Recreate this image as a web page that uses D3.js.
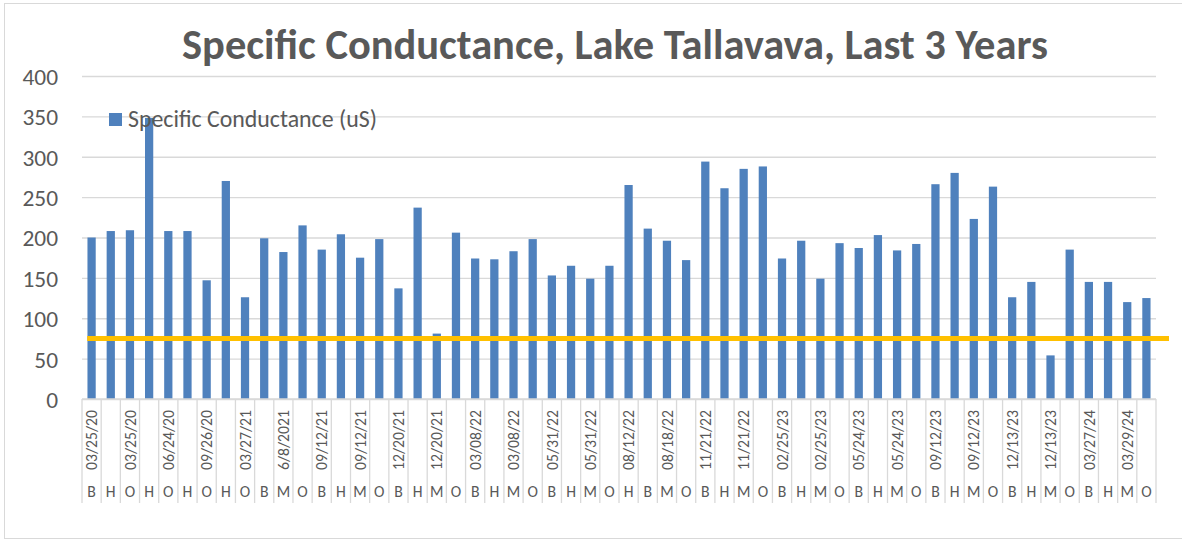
<!DOCTYPE html>
<html>
<head>
<meta charset="utf-8">
<script src="https://cdn.jsdelivr.net/npm/d3@7"></script>
<style>
  body { margin: 0; background: #fff; }
  text { font-family: Carlito, Calibri, Lato, sans-serif; fill: #595959; }
</style>
</head>
<body>
<div id="chart"></div>
<script>
const sites = ['B','H','O','H','O','H','O','H','O','B','M','O','B','H','M','O','B','H','M','O',
  'B','H','M','O','B','H','M','O','H','B','M','O','B','H','M','O','B','H','M','O',
  'B','H','M','O','B','H','M','O','B','H','M','O','B','H','M','O'];

// one date label for every pair of bars
const dateLabels = ['03/25/20','03/25/20','06/24/20','09/26/20','03/27/21','6/8/2021','09/12/21','09/12/21',
  '12/20/21','12/20/21','03/08/22','03/08/22','05/31/22','05/31/22','08/12/22','08/18/22',
  '11/21/22','11/21/22','02/25/23','02/25/23','05/24/23','05/24/23','09/12/23','09/12/23',
  '12/13/23','12/13/23','03/27/24','03/29/24'];

const conductance = [200,208,209,348,208,208,147,270,126,199,182,215,185,204,175,198,137,237,81,206,
  174,173,183,198,153,165,149,165,265,211,196,172,294,261,285,288,174,196,149,193,
  187,203,184,192,266,280,223,263,126,145,54,185,145,145,120,125];

const threshold = 75;
const yTicks = [0,50,100,150,200,250,300,350,400];

const W = 1182, H = 541;
const margin = { top: 76, right: 26, bottom: 142, left: 82 };
const width = W - margin.left - margin.right;
const height = H - margin.top - margin.bottom;

const svg = d3.select('#chart').append('svg')
  .attr('width', W)
  .attr('height', H);

// chart border
svg.append('rect')
  .attr('x', 4.5).attr('y', 3.5)
  .attr('width', W - 3).attr('height', H - 6)
  .attr('fill', 'none')
  .attr('stroke', '#d9d9d9');

const g = svg.append('g').attr('transform', `translate(${margin.left},${margin.top})`);

const idx = d3.range(conductance.length);
const x = d3.scaleBand().domain(idx).range([0, width]).padding(0);
const y = d3.scaleLinear().domain([0, 400]).range([height, 0]);

// shrink/grow a text so it is a given width
const fit = (sel, target) => {
  const node = sel.node();
  const size = parseFloat(sel.attr('font-size'));
  const len = node.getComputedTextLength();
  const s = size * target / len;
  sel.attr('font-size', s);
  return s;
};

// y axis with gridlines
const yAxis = d3.axisLeft(y).tickValues(yTicks).tickSize(-width).tickPadding(24);
const yg = g.append('g').call(yAxis);
yg.select('.domain').remove();
yg.selectAll('.tick line').attr('stroke', '#d9d9d9').attr('stroke-width', 1.3);
const probe = yg.selectAll('.tick text').filter(d => d === 400).attr('font-size', 20);
const ySize = fit(probe, 35.6);
yg.selectAll('.tick text')
  .attr('font-size', ySize)
  .attr('font-family', null)
  .attr('fill', '#595959')
  .attr('dy', '0.36em');

// bars
const barW = x.bandwidth() * 0.43;
g.selectAll('.bar')
  .data(idx)
  .enter()
  .append('rect')
  .attr('class', 'bar')
  .attr('x', i => x(i) + (x.bandwidth() - barW) / 2)
  .attr('y', i => y(conductance[i]))
  .attr('width', barW)
  .attr('height', i => height - y(conductance[i]))
  .attr('fill', '#4f81bd');

// threshold line
g.append('line')
  .attr('x1', x(0) + x.bandwidth() * 0.27)
  .attr('x2', width + 13)
  .attr('y1', y(threshold))
  .attr('y2', y(threshold))
  .attr('stroke', '#ffc000')
  .attr('stroke-width', 5);

// x axis: baseline + category separators
const xa = g.append('g').attr('transform', `translate(0,${height})`);
xa.append('line')
  .attr('x1', 0).attr('x2', width)
  .attr('stroke', '#d9d9d9').attr('stroke-width', 1.3);
xa.selectAll('.sep')
  .data(d3.range(conductance.length + 1))
  .enter()
  .append('line')
  .attr('class', 'sep')
  .attr('x1', i => i * x.step())
  .attr('x2', i => i * x.step())
  .attr('y1', 0)
  .attr('y2', 104)
  .attr('stroke', '#d9d9d9')
  .attr('stroke-width', 1.3);

// date labels (every other category)
const dates = xa.selectAll('.date')
  .data(dateLabels)
  .enter()
  .append('text')
  .attr('class', 'date')
  .attr('font-size', 14)
  .attr('text-anchor', 'middle')
  .attr('transform', (d, i) => `translate(${x(i * 2) + x.bandwidth() / 2},41) rotate(-90)`)
  .attr('dy', '0.36em')
  .text(d => d);
const dSize = fit(dates.filter((d, i) => i === 0), 60);
dates.attr('font-size', dSize);

// site letters
xa.selectAll('.site')
  .data(sites)
  .enter()
  .append('text')
  .attr('class', 'site')
  .attr('font-size', dSize)
  .attr('text-anchor', 'middle')
  .attr('x', (d, i) => x(i) + x.bandwidth() / 2)
  .attr('y', 98)
  .text(d => d);

// title
const title = svg.append('text')
  .attr('x', 615)
  .attr('y', 59)
  .attr('text-anchor', 'middle')
  .attr('font-weight', 'bold')
  .attr('font-size', 34)
  .text('Specific Conductance, Lake Tallavava, Last 3 Years');
fit(title, 866);

// legend
svg.append('rect')
  .attr('x', 109).attr('y', 113)
  .attr('width', 13).attr('height', 13)
  .attr('fill', '#4f81bd');
const legText = svg.append('text')
  .attr('x', 128)
  .attr('y', 127)
  .attr('font-size', 18)
  .text('Specific Conductance (uS)');
fit(legText, 249);
</script>
</body>
</html>
